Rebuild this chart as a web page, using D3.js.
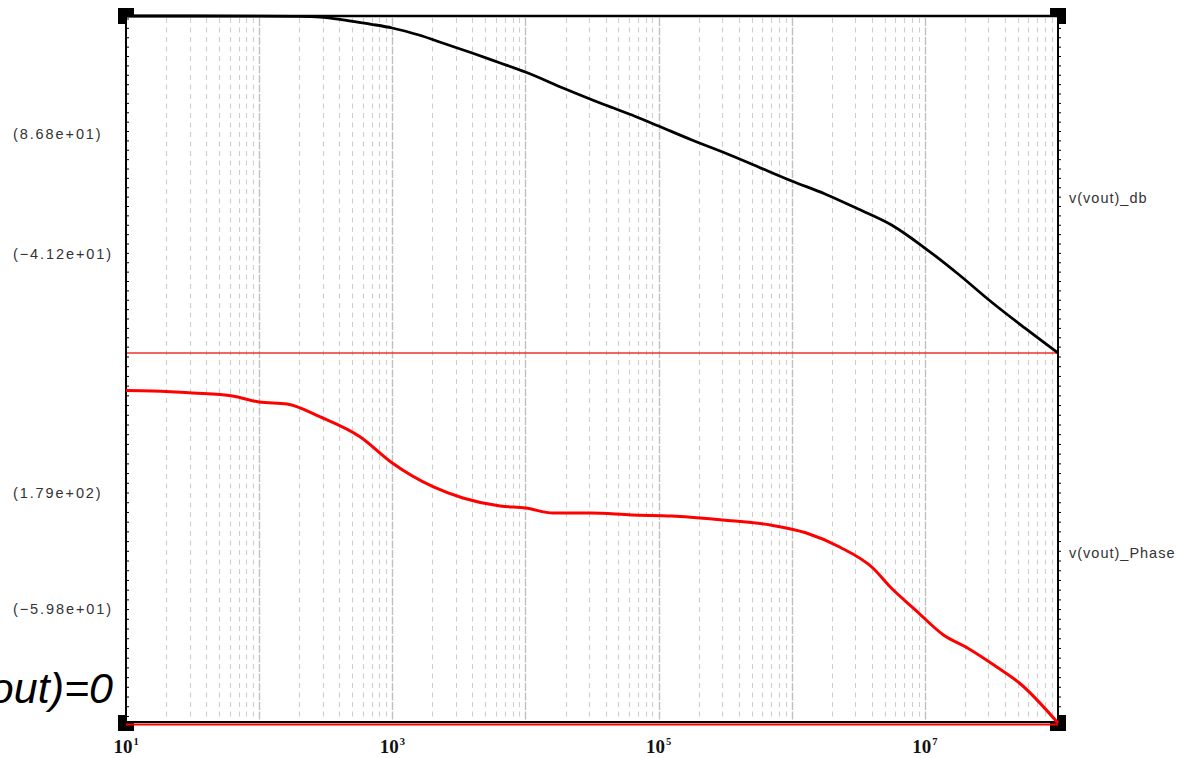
<!DOCTYPE html>
<html><head><meta charset="utf-8">
<script src="https://cdn.jsdelivr.net/npm/d3@7/dist/d3.min.js"></script>
<style>html,body{margin:0;padding:0;background:#fff;overflow:hidden}svg{display:block}</style>
</head><body>
<svg id="c" width="1184" height="758"></svg>
<script>
// ---- data ----
const magFreq = [10, 31.6, 100, 180, 288, 442, 681, 1000, 1585, 2512, 3981, 6310, 10000, 19953, 39811, 63096,
  100000, 177828, 316228, 562341, 1000000, 1778279, 3162278, 5623413, 10000000, 17782794, 31622777, 56234133, 100000000];
const magDb = [212.7, 212.7, 212.6, 212.3, 211.6, 208.4, 204.1, 199.9, 192.4, 182.8, 173.2, 163.1, 152.9, 134.8, 117.7, 107.1,
  95.3, 80.4, 66.5, 51.6, 36.7, 22.9, 6.8, -10.3, -34.8, -62.5, -92.4, -120.1, -146.8];

const phaseFreq = [10, 15.8, 31.6, 63.1, 100, 162, 288, 575, 1000, 2040, 3390, 6460, 10000, 16200, 30900, 63100,
  126000, 302000, 692000, 1290000, 2290000, 4070000, 5500000, 8510000, 13800000, 20900000, 34700000, 51300000, 100000000];
const phaseDeg = [390.0, 389.0, 384.9, 378.7, 366.3, 362.2, 335.5, 294.3, 240.8, 191.4, 168.7, 152.2, 148.1, 137.8, 137.8, 133.7,
  131.7, 123.4, 113.1, 96.7, 67.8, 24.6, -14.5, -61.9, -113.3, -140.1, -179.2, -212.1, -294.5];

const magDomain = [-146.8, 212.7];
const phaseDomain = [-294.5, 467.2];
const magTickVals = [86.8, -41.2];
const magTickText = ["(8.68e+01)", "(\u22124.12e+01)"];
const phaseTickVals = [179, -59.8];
const phaseTickText = ["(1.79e+02)", "(\u22125.98e+01)"];
const xLabelExps = [1, 3, 5, 7];
const seriesNames = ["v(vout)_db", "v(vout)_Phase"];
const noteText = "v(vout)=0";

// ---- layout ----
const L = 126, R = 1058, T = 16, M = 353, B = 723;
const svg = d3.select("#c");

const x = d3.scaleLog().domain([10, 1e8]).range([L, R]);
const yMag = d3.scaleLinear().domain(magDomain).range([M, T]);
const yPh = d3.scaleLinear().domain(phaseDomain).range([B, M]);

// corner squares
const corners = [[L, T], [R, T], [L, B], [R, B]];
svg.selectAll("rect.corner").data(corners).join("rect")
  .attr("x", d => d[0] - 8).attr("y", d => d[1] - 8)
  .attr("width", 16).attr("height", 16).attr("fill", "#000");
// plot background
svg.append("rect").attr("x", L + 1).attr("y", T + 1).attr("width", R - L - 2).attr("height", B - T - 2).attr("fill", "#fff");

// grid lines
const gridVals = [];
for (let e = 1; e < 8; e++) for (let k = 1; k <= 9; k++) {
  const v = k * Math.pow(10, e);
  if (v > 10 && v < 1e8) gridVals.push({v, major: k === 1});
}
svg.append("g").selectAll("line").data(gridVals).join("line")
  .attr("x1", d => Math.round(x(d.v)) + 0.5).attr("x2", d => Math.round(x(d.v)) + 0.5)
  .attr("y1", T + 2).attr("y2", B - 2)
  .attr("stroke", d => d.major ? "#c0c0c0" : "#cdcdcd")
  .attr("stroke-width", d => d.major ? 1.4 : 1.1)
  .attr("stroke-dasharray", d => d.major ? "8,1.5" : "5,4.5");

// y tick marks
const magTicks = d3.range(-140, 211, 10);
const phTicks = d3.range(-280, 461, 20);
function yTicks(scale, vals, xpos) {
  const g = svg.append("g").attr("transform", `translate(${xpos},0)`)
    .call(d3.axisRight(scale).tickValues(vals).tickSize(3).tickFormat(""));
  g.select(".domain").remove();
  g.selectAll(".tick line").attr("stroke", "#000").attr("stroke-width", 1);
}
yTicks(yMag, magTicks, L); yTicks(yPh, phTicks, L);
yTicks(yMag, magTicks, R); yTicks(yPh, phTicks, R);

// frame
svg.append("line").attr("x1", L).attr("x2", R).attr("y1", M).attr("y2", M).attr("stroke", "#f03030").attr("stroke-width", 1.5);
svg.append("line").attr("x1", L).attr("x2", R).attr("y1", T).attr("y2", T).attr("stroke", "#000").attr("stroke-width", 2.5);
svg.append("line").attr("x1", L).attr("x2", R).attr("y1", B - 1).attr("y2", B - 1).attr("stroke", "#000").attr("stroke-width", 2);
svg.append("line").attr("x1", L).attr("x2", R).attr("y1", B + 1.5).attr("y2", B + 1.5).attr("stroke", "#f00").attr("stroke-width", 2);
svg.append("line").attr("x1", L).attr("x2", L).attr("y1", T).attr("y2", B).attr("stroke", "#000").attr("stroke-width", 2);
svg.append("line").attr("x1", R).attr("x2", R).attr("y1", T).attr("y2", B).attr("stroke", "#000").attr("stroke-width", 2);

// curves
const magData = magFreq.map((f, i) => [f, magDb[i]]);
const phData = phaseFreq.map((f, i) => [f, phaseDeg[i]]);
svg.append("path").datum(magData)
  .attr("d", d3.line().x(d => x(d[0])).y(d => yMag(d[1])).curve(d3.curveMonotoneX))
  .attr("fill", "none").attr("stroke", "#000").attr("stroke-width", 2.8);
svg.append("path").datum(phData)
  .attr("d", d3.line().x(d => x(d[0])).y(d => yPh(d[1])).curve(d3.curveMonotoneX))
  .attr("fill", "none").attr("stroke", "#f00").attr("stroke-width", 3);

// left labels
const leftLabels = magTickVals.map((v, i) => ({y: yMag(v), t: magTickText[i]}))
  .concat(phaseTickVals.map((v, i) => ({y: yPh(v), t: phaseTickText[i]})));
svg.append("g").selectAll("text").data(leftLabels).join("text")
  .attr("x", 13).attr("y", d => d.y).attr("dy", "0.35em")
  .attr("font-family", "Liberation Sans, Arial, sans-serif").attr("font-size", 14.5)
  .attr("letter-spacing", 1.9).attr("fill", "#333").text(d => d.t);

// right series names
svg.append("g").selectAll("text").data([(T + M) / 2 + 13, (M + B) / 2 + 15]).join("text")
  .attr("x", 1069).attr("y", d => d).attr("dy", "0.35em")
  .attr("font-family", "Liberation Sans, Arial, sans-serif").attr("font-size", 14.5)
  .attr("letter-spacing", 1).attr("fill", "#333").text((d, i) => seriesNames[i]);

// x labels
const xl = svg.append("g").selectAll("text").data(xLabelExps).join("text")
  .attr("x", d => x(Math.pow(10, d))).attr("y", 753).attr("text-anchor", "middle")
  .attr("font-family", "Liberation Serif, 'Times New Roman', serif").attr("font-weight", "bold").attr("fill", "#111");
xl.append("tspan").attr("font-size", 19).text("10");
xl.append("tspan").attr("font-size", 10.5).attr("dx", 1).attr("dy", -8).text(d => d);

// note at left, clipped by the page edge as in the reference
svg.append("text").attr("x", 113).attr("y", 703).attr("text-anchor", "end")
  .attr("font-family", "Liberation Sans, Arial, sans-serif").attr("font-style", "italic")
  .attr("font-size", 43).attr("fill", "#000").text(noteText);
</script>
</body></html>
